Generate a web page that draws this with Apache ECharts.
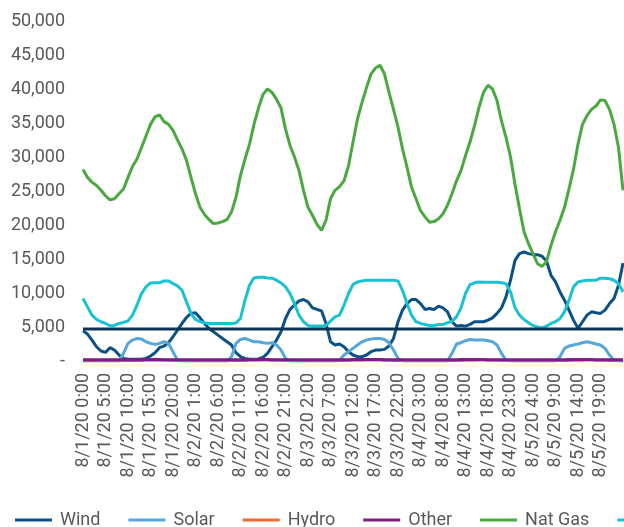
<!DOCTYPE html>
<html>
<head>
<meta charset="utf-8">
<script src="https://cdn.jsdelivr.net/npm/echarts@6/dist/echarts.min.js"></script>
<style>
  html, body { margin: 0; padding: 0; background: #fff; }
  #chart { width: 624px; height: 527px; }
</style>
</head>
<body>
<div id="chart"></div>
<script>
// hourly generation (MW), 8/1/20 0:00 -> 8/6/20 0:00
const days = ['8/1/20', '8/2/20', '8/3/20', '8/4/20', '8/5/20', '8/6/20']
const hours = []
days.forEach(d => {
  for (let h = 0; h < 24; h++) hours.push(d + ' ' + h + ':00')
})
const categories = hours.slice(0, 121)

const wind = [
  4450, 3960, 3080, 2100, 1470, 1270, 1960, 1610, 880, 390, 250, 250, 250, 250, 390, 730, 1220, 1960, 2200, 2690, 3570, 4540, 5520, 6400,
  7000, 7090, 6350, 5520, 4790, 4300, 3810, 3320, 2830, 2350, 1220, 630, 390, 250, 250, 300, 540, 1130, 2100, 3080, 4300, 6250, 7580, 8210,
  8840, 9040, 8700, 7820, 7580, 7380, 5520, 2830, 2350, 2500, 2100, 1370, 880, 630, 630, 880, 1370, 1610, 1610, 1710, 2200, 3320, 5770, 7480,
  8450, 9040, 9040, 8450, 7580, 7720, 7580, 8060, 7820, 7230, 5770, 5130, 5230, 5130, 5380, 5770, 5770, 5770, 6010, 6350, 7000, 7820, 9430, 11880,
  14800, 15790, 16030, 15790, 15640, 15640, 15400, 14700, 12600, 11630, 10160, 8940, 7480, 6010, 4800, 5770, 6740, 7230, 7090, 7000, 7480, 8450, 9190, 11140,
  14400
]
const solar = [
  0, 0, 0, 0, 0, 0, 0, 0, 0, 1130, 2590, 3080, 3320, 3220, 2830, 2590, 2440, 2590, 2830, 2590, 1370, 100, 0, 0,
  0, 0, 0, 0, 0, 0, 0, 0, 0, 630, 2590, 3170, 3320, 3080, 2830, 2830, 2690, 2590, 2690, 2350, 1610, 390, 0, 0,
  0, 0, 0, 0, 0, 0, 0, 0, 0, 100, 880, 1370, 1860, 2350, 2830, 3080, 3220, 3320, 3320, 3170, 2690, 1610, 390, 0,
  0, 0, 0, 0, 0, 0, 0, 0, 0, 0, 1130, 2500, 2690, 2980, 3170, 3080, 3080, 3080, 2980, 2830, 2350, 1130, 100, 0,
  0, 0, 0, 0, 0, 0, 0, 0, 0, 0, 630, 1860, 2200, 2350, 2500, 2690, 2830, 2690, 2500, 2350, 1860, 880, 100, 0,
  0
]
const hydro = [
  60, 50, 50, 40, 40, 40, 40, 40, 50, 50, 60, 70, 80, 90, 100, 110, 120, 120, 110, 100, 90, 80, 70, 60,
  50, 50, 40, 40, 40, 40, 40, 40, 50, 60, 70, 80, 90, 100, 110, 120, 130, 130, 120, 110, 100, 80, 70, 60,
  50, 50, 40, 40, 40, 40, 40, 40, 50, 60, 70, 80, 100, 110, 120, 130, 140, 140, 130, 120, 110, 90, 70, 60,
  50, 50, 40, 40, 40, 40, 40, 40, 50, 60, 70, 80, 90, 100, 110, 120, 130, 130, 120, 110, 100, 80, 70, 60,
  50, 50, 40, 40, 40, 40, 40, 40, 50, 60, 70, 80, 90, 100, 110, 120, 130, 130, 120, 110, 100, 80, 70, 60,
  50
]
const other = [
  180, 180, 170, 170, 170, 170, 170, 180, 180, 190, 190, 200, 200, 200, 210, 210, 210, 210, 200, 200, 190, 190, 180, 180,
  180, 170, 170, 170, 170, 170, 170, 180, 180, 190, 190, 200, 200, 210, 210, 210, 210, 210, 200, 200, 190, 190, 180, 180,
  180, 170, 170, 170, 170, 170, 170, 180, 180, 190, 200, 200, 210, 210, 210, 220, 220, 210, 210, 200, 190, 190, 180, 180,
  180, 170, 170, 170, 170, 170, 170, 180, 180, 190, 200, 200, 210, 210, 210, 210, 210, 210, 200, 200, 190, 190, 180, 180,
  180, 170, 170, 170, 170, 170, 170, 180, 180, 190, 200, 200, 210, 210, 210, 210, 210, 210, 200, 200, 190, 190, 180, 180,
  180
]
const natGas = [
  28150, 27000, 26300, 25800, 25100, 24300, 23700, 23850, 24600, 25300, 27000, 28600, 29700, 31400, 33100, 34800, 35900, 36200, 35200, 34800, 33900, 32500, 31200, 29500,
  27000, 24600, 22600, 21550, 20800, 20200, 20300, 20500, 20800, 21900, 24100, 27300, 29700, 31900, 34800, 37200, 39200, 40000, 39500, 38500, 37200, 34100, 31700, 30000,
  28000, 25100, 22600, 21400, 20100, 19200, 20700, 23850, 25100, 25650, 26500, 28700, 32200, 35600, 38000, 40200, 42200, 43100, 43500, 42200, 39500, 37000, 34400, 31200,
  28500, 25600, 23850, 22100, 21200, 20400, 20500, 20900, 21650, 22900, 24600, 26500, 28000, 30200, 32200, 34600, 37300, 39500, 40550, 40000, 38300, 35300, 32900, 30000,
  26000, 22400, 19000, 17250, 15800, 14300, 13900, 14600, 17000, 19000, 20700, 22600, 25300, 28200, 31900, 34800, 36100, 37000, 37500, 38400, 38300, 37000, 34800, 31400,
  25100
]
const coal = [
  9190, 7960, 6740, 6100, 5770, 5520, 5180, 5230, 5520, 5670, 5910, 6740, 8210, 9920, 10900, 11480, 11500, 11500, 11780, 11780, 11380, 11040, 10400, 8700,
  7000, 6100, 5770, 5620, 5520, 5520, 5520, 5520, 5520, 5520, 5600, 6250, 8940, 11140, 12220, 12300, 12300, 12220, 12170, 11880, 11480, 10900, 9920, 8450,
  6740, 5770, 5230, 5130, 5130, 5130, 5230, 5860, 6500, 6740, 8210, 9920, 11240, 11630, 11780, 11880, 11880, 11880, 11880, 11880, 11880, 11880, 11780, 10400,
  8450, 6740, 5770, 5520, 5380, 5230, 5230, 5380, 5380, 5620, 5860, 6500, 7820, 9920, 11240, 11500, 11630, 11580, 11580, 11580, 11580, 11500, 11380, 10160,
  7820, 6740, 6100, 5620, 5230, 4990, 4900, 5130, 5520, 5770, 6250, 7230, 8940, 10900, 11630, 11780, 11880, 11880, 11880, 12170, 12170, 12100, 11880, 11380,
  10160
]
const nuclear = [
  4690, 4690, 4690, 4690, 4690, 4690, 4690, 4690, 4690, 4690, 4690, 4690, 4690, 4690, 4690, 4690, 4690, 4690, 4690, 4690, 4690, 4690, 4690, 4690,
  4690, 4690, 4690, 4690, 4690, 4690, 4690, 4690, 4690, 4690, 4690, 4690, 4690, 4690, 4690, 4690, 4690, 4690, 4690, 4690, 4690, 4690, 4690, 4690,
  4690, 4690, 4690, 4690, 4690, 4690, 4690, 4690, 4690, 4690, 4690, 4690, 4690, 4690, 4690, 4690, 4690, 4690, 4690, 4690, 4690, 4690, 4690, 4690,
  4690, 4690, 4690, 4690, 4690, 4690, 4690, 4690, 4690, 4690, 4690, 4690, 4690, 4690, 4690, 4690, 4690, 4690, 4690, 4690, 4690, 4690, 4690, 4690,
  4690, 4690, 4690, 4690, 4690, 4690, 4690, 4690, 4690, 4690, 4690, 4690, 4690, 4690, 4690, 4690, 4690, 4690, 4690, 4690, 4690, 4690, 4690, 4690,
  4690
]

const names = ['Wind', 'Solar', 'Hydro', 'Other', 'Nat Gas', 'Coal', 'Nuclear']
const colors = ['#0b5185', '#55a6db', '#f26b30', '#7a1f82', '#4aa93e', '#17c2d2', '#0c3454']
const values = [wind, solar, hydro, other, natGas, coal, nuclear]

const fontFamily = 'Roboto, "Noto Sans", sans-serif'
const textColor = '#595959'

const chart = echarts.init(document.getElementById('chart'))
chart.setOption({
  animation: false,
  textStyle: { fontFamily: fontFamily },
  grid: { left: 83, right: 1, top: 21, bottom: 166 },
  legend: {
    left: 10,
    top: 506,
    width: 1400,
    icon: 'rect',
    itemWidth: 37,
    itemHeight: 3,
    itemGap: 28,
    data: names,
    textStyle: { fontSize: 18, color: textColor, fontFamily: fontFamily, padding: [0, 0, 0, 3] }
  },
  xAxis: {
    type: 'category',
    boundaryGap: false,
    data: categories,
    axisLine: { show: false },
    axisTick: { show: false },
    axisLabel: {
      rotate: 90,
      margin: 12,
      fontSize: 18,
      color: textColor,
      interval: (i) => i % 5 === 0 && i < 120
    }
  },
  yAxis: {
    type: 'value',
    min: 0,
    max: 50000,
    interval: 5000,
    splitLine: { show: false },
    axisLine: { show: false },
    axisTick: { show: false },
    axisLabel: {
      margin: 18,
      fontSize: 18,
      color: textColor,
      formatter: (v) => v === 0 ? '-' : v.toLocaleString('en-US')
    }
  },
  series: names.map((name, i) => ({
    name: name,
    type: 'line',
    data: values[i],
    symbol: 'none',
    color: colors[i],
    lineStyle: { width: 3, color: colors[i] }
  }))
})
</script>
</body>
</html>
